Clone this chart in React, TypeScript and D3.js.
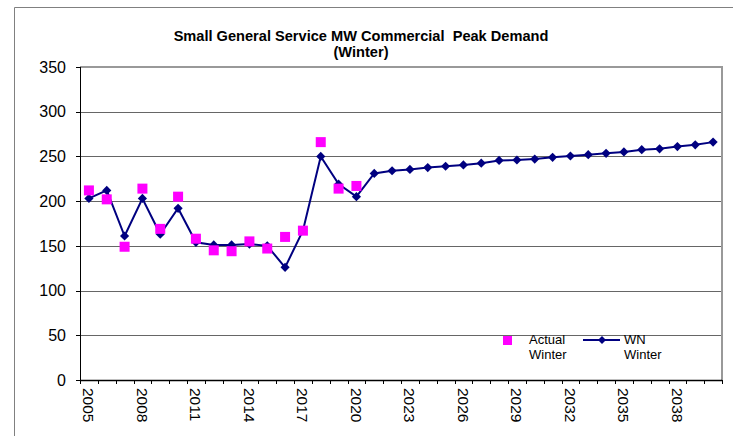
import React from "react";
import * as d3 from "d3";

// years on the category axis
const years: number[] = d3.range(2005, 2041);

// weather-normalized winter peak (MW)
const wnWinter: number[] = [
  203, 212, 161, 203, 163, 192, 154, 151, 151, 152, 150, 126, 167, 250, 219, 205,
  231, 234, 235.5, 237.5, 239, 240.5, 242.5, 245.5, 246, 247, 249, 250.5, 252,
  253.5, 255, 257.5, 258.5, 261, 263, 266,
];

// actual winter peak (MW), only history
const actualWinter: number[] = [
  212, 202, 149, 214, 169, 205, 158, 145, 144, 155, 147, 160, 167, 266, 214, 217,
];

const yTicks: number[] = [0, 50, 100, 150, 200, 250, 300, 350];

const W = 733;
const H = 436;
const plot = { left: 80, right: 722, top: 67, bottom: 380 };
const font = "Arial, 'Liberation Sans', sans-serif";

export default function App() {
  const x = d3
    .scaleBand<number>()
    .domain(years)
    .range([plot.left, plot.right]);
  const cx = (yr: number) => (x(yr) as number) + x.bandwidth() / 2;
  const y = d3.scaleLinear().domain([0, 350]).range([plot.bottom, plot.top]);

  const wnData = years.map((yr, i) => ({ yr, v: wnWinter[i] }));
  const actData = actualWinter.map((v, i) => ({ yr: years[i], v }));

  const line = d3
    .line<{ yr: number; v: number }>()
    .x((d) => cx(d.yr))
    .y((d) => y(d.v));

  const diamond = (px: number, py: number, r = 4.6) =>
    `M${px},${py - r}L${px + r},${py}L${px},${py + r}L${px - r},${py}Z`;

  return (
    <svg
      width={W}
      height={H}
      style={{ position: "absolute", left: 0, top: 0, background: "#fff" }}
      fontFamily={font}
    >
      {/* outer chart frame */}
      <path d={`M14.5,${H}V7.5H${W}`} fill="none" stroke="#808080" />

      {/* title */}
      <text
        x={361}
        y={41}
        textAnchor="middle"
        fontSize={14.6}
        fontWeight="bold"
        style={{ whiteSpace: "pre" }}
      >
        Small General Service MW Commercial  Peak Demand
      </text>
      <text x={361} y={57} textAnchor="middle" fontSize={14.6} fontWeight="bold">
        (Winter)
      </text>

      {/* gridlines */}
      {yTicks.slice(1).map((t) => (
        <line
          key={t}
          x1={plot.left}
          x2={plot.right}
          y1={Math.round(y(t)) + 0.5}
          y2={Math.round(y(t)) + 0.5}
          stroke="#666"
        />
      ))}
      {/* plot area border (top / right) */}
      <path
        d={`M${plot.left},${plot.top}H${plot.right}V${plot.bottom}`}
        fill="none"
        stroke="#999"
        strokeWidth={2}
      />

      {/* y axis */}
      <line x1={plot.left + 0.5} x2={plot.left + 0.5} y1={plot.top} y2={plot.bottom} stroke="#000" />
      {yTicks.map((t) => (
        <g key={t}>
          <line
            x1={plot.left - 4}
            x2={plot.left}
            y1={Math.round(y(t)) + 0.5}
            y2={Math.round(y(t)) + 0.5}
            stroke="#000"
          />
          <text x={66} y={y(t)} dy="0.36em" textAnchor="end" fontSize={16}>
            {t}
          </text>
        </g>
      ))}

      {/* x axis */}
      <line x1={plot.left} x2={plot.right} y1={plot.bottom + 0.5} y2={plot.bottom + 0.5} stroke="#000" strokeWidth={1.5} />
      {[...years, 2041].map((yr, i) => {
        const px = Math.round(plot.left + i * x.bandwidth()) + 0.5;
        return <line key={yr} x1={px} x2={px} y1={plot.bottom} y2={plot.bottom + 4} stroke="#000" />;
      })}
      {years
        .filter((yr) => (yr - 2005) % 3 === 0)
        .map((yr) => (
          <text
            key={yr}
            transform={`translate(${cx(yr)},${plot.bottom + 8}) rotate(90)`}
            dy="0.36em"
            fontSize={15.5}
          >
            {yr}
          </text>
        ))}

      {/* WN winter series */}
      <path d={line(wnData) || ""} fill="none" stroke="#000080" strokeWidth={2} />
      {wnData.map((d) => (
        <path key={d.yr} d={diamond(cx(d.yr), y(d.v))} fill="#000080" />
      ))}

      {/* actual winter series */}
      {actData.map((d) => (
        <rect
          key={d.yr}
          x={cx(d.yr) - 5}
          y={y(d.v) - 5}
          width={10}
          height={10}
          fill="#FF00FF"
        />
      ))}

      {/* legend */}
      <rect x={503} y={336} width={9} height={9} fill="#FF00FF" />
      <text x={529} y={344} fontSize={13}>Actual</text>
      <text x={529} y={359} fontSize={13}>Winter</text>
      <line x1={583} x2={620} y1={340} y2={340} stroke="#000080" strokeWidth={2} />
      <path d={diamond(602, 340, 4)} fill="#000080" />
      <text x={624} y={344} fontSize={13}>WN</text>
      <text x={624} y={359} fontSize={13}>Winter</text>
    </svg>
  );
}
